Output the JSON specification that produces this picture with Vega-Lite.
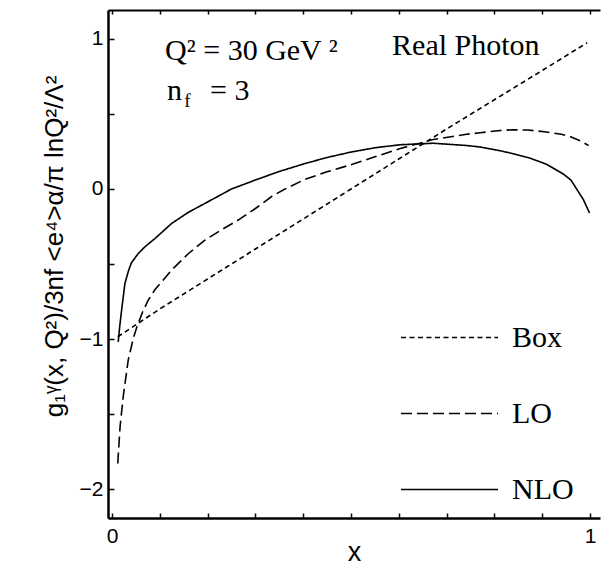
{
  "$schema": "https://vega.github.io/schema/vega-lite/v6.json",
  "width": 492,
  "height": 508,
  "autosize": {"type": "none"},
  "padding": {"left": 108, "top": 10, "right": 6, "bottom": 48},
  "background": "white",
  "config": {
    "view": {"stroke": null},
    "font": "Liberation Sans",
    "axis": {"domainColor": "black", "tickColor": "black", "labelColor": "black", "titleColor": "black", "grid": false}
  },
  "datasets": {
    "curves": [
      {"series": "Box", "x": 0.012, "y": -0.985},
      {"series": "Box", "x": 0.1, "y": -0.8},
      {"series": "Box", "x": 0.2, "y": -0.6},
      {"series": "Box", "x": 0.3, "y": -0.4},
      {"series": "Box", "x": 0.4, "y": -0.2},
      {"series": "Box", "x": 0.5, "y": 0.0},
      {"series": "Box", "x": 0.6, "y": 0.2},
      {"series": "Box", "x": 0.7, "y": 0.4},
      {"series": "Box", "x": 0.8, "y": 0.595},
      {"series": "Box", "x": 0.9, "y": 0.79},
      {"series": "Box", "x": 0.994, "y": 0.975},
      {"series": "LO", "x": 0.012, "y": -1.83},
      {"series": "LO", "x": 0.017, "y": -1.58},
      {"series": "LO", "x": 0.024, "y": -1.37},
      {"series": "LO", "x": 0.034, "y": -1.14},
      {"series": "LO", "x": 0.045, "y": -0.99},
      {"series": "LO", "x": 0.052, "y": -0.92},
      {"series": "LO", "x": 0.064, "y": -0.82},
      {"series": "LO", "x": 0.076, "y": -0.74},
      {"series": "LO", "x": 0.09, "y": -0.67},
      {"series": "LO", "x": 0.125, "y": -0.54},
      {"series": "LO", "x": 0.16, "y": -0.43},
      {"series": "LO", "x": 0.195, "y": -0.34},
      {"series": "LO", "x": 0.23, "y": -0.27},
      {"series": "LO", "x": 0.264, "y": -0.207},
      {"series": "LO", "x": 0.3, "y": -0.13},
      {"series": "LO", "x": 0.334, "y": -0.05},
      {"series": "LO", "x": 0.362, "y": 0.0},
      {"series": "LO", "x": 0.404, "y": 0.065},
      {"series": "LO", "x": 0.45, "y": 0.115},
      {"series": "LO", "x": 0.498, "y": 0.16},
      {"series": "LO", "x": 0.55, "y": 0.215},
      {"series": "LO", "x": 0.603, "y": 0.27},
      {"series": "LO", "x": 0.672, "y": 0.33},
      {"series": "LO", "x": 0.742, "y": 0.365},
      {"series": "LO", "x": 0.77, "y": 0.375},
      {"series": "LO", "x": 0.812, "y": 0.39},
      {"series": "LO", "x": 0.839, "y": 0.395},
      {"series": "LO", "x": 0.87, "y": 0.393},
      {"series": "LO", "x": 0.909, "y": 0.38},
      {"series": "LO", "x": 0.94, "y": 0.365},
      {"series": "LO", "x": 0.958, "y": 0.35},
      {"series": "LO", "x": 0.98, "y": 0.32},
      {"series": "LO", "x": 0.997, "y": 0.29},
      {"series": "NLO", "x": 0.013, "y": -1.02},
      {"series": "NLO", "x": 0.016, "y": -0.92},
      {"series": "NLO", "x": 0.02, "y": -0.81},
      {"series": "NLO", "x": 0.027, "y": -0.63},
      {"series": "NLO", "x": 0.035, "y": -0.54},
      {"series": "NLO", "x": 0.041, "y": -0.49},
      {"series": "NLO", "x": 0.055, "y": -0.43},
      {"series": "NLO", "x": 0.069, "y": -0.385},
      {"series": "NLO", "x": 0.09, "y": -0.33},
      {"series": "NLO", "x": 0.125, "y": -0.229},
      {"series": "NLO", "x": 0.16, "y": -0.155},
      {"series": "NLO", "x": 0.195, "y": -0.095},
      {"series": "NLO", "x": 0.25, "y": 0.0},
      {"series": "NLO", "x": 0.3, "y": 0.06},
      {"series": "NLO", "x": 0.35, "y": 0.117},
      {"series": "NLO", "x": 0.404, "y": 0.17},
      {"series": "NLO", "x": 0.45, "y": 0.21},
      {"series": "NLO", "x": 0.498, "y": 0.245},
      {"series": "NLO", "x": 0.55, "y": 0.275},
      {"series": "NLO", "x": 0.603, "y": 0.295},
      {"series": "NLO", "x": 0.672, "y": 0.305},
      {"series": "NLO", "x": 0.742, "y": 0.29},
      {"series": "NLO", "x": 0.77, "y": 0.28},
      {"series": "NLO", "x": 0.812, "y": 0.255},
      {"series": "NLO", "x": 0.84, "y": 0.235},
      {"series": "NLO", "x": 0.875, "y": 0.205},
      {"series": "NLO", "x": 0.909, "y": 0.165},
      {"series": "NLO", "x": 0.944, "y": 0.1},
      {"series": "NLO", "x": 0.96, "y": 0.06},
      {"series": "NLO", "x": 0.972, "y": 0.0},
      {"series": "NLO", "x": 0.986, "y": -0.07},
      {"series": "NLO", "x": 0.999, "y": -0.16}
    ],
    "notes": [
      {"text": "Q² = 30 GeV ²", "x": 0.111, "y": 0.86},
      {"text": "Real Photon", "x": 0.586, "y": 0.893},
      {"text": "n", "x": 0.115, "y": 0.593},
      {"text": "=  3", "x": 0.205, "y": 0.593}
    ],
    "subs": [
      {"text": "f", "x": 0.151, "y": 0.547}
    ]
  },
  "resolve": {"axis": {"x": "independent", "y": "independent"}},
  "layer": [
    {
      "data": {"name": "curves"},
      "mark": {"type": "line", "color": "black", "strokeWidth": 1.6},
      "encoding": {
        "x": {
          "field": "x", "type": "quantitative",
          "scale": {"domain": [-0.00837, 1.0209], "nice": false, "zero": false},
          "axis": {
            "orient": "bottom",
            "values": [0, 0.1, 0.2, 0.3, 0.4, 0.5, 0.6, 0.7, 0.8, 0.9, 1],
            "labelExpr": "datum.value === 0 || datum.value === 1 ? format(datum.value, 'd') : ''",
            "tickSize": -5, "tickWidth": 1.5, "domainWidth": 2.5,
            "labelFontSize": 21, "labelPadding": 12, "labelFlush": false,
            "title": "x", "titleFontSize": 27, "titleFontWeight": "normal",
            "titleBaseline": "alphabetic", "titleY": 42,
            "encode": {"ticks": {"update": {"y2": {"signal": "datum.value === 0 || datum.value === 1 ? -10 : -5"}}}}
          }
        },
        "y": {
          "field": "y", "type": "quantitative",
          "scale": {"domain": [-2.1933, 1.1933], "nice": false, "zero": false},
          "axis": {
            "orient": "left",
            "values": [-2, -1.5, -1, -0.5, 0, 0.5, 1],
            "labelExpr": "datum.value % 1 === 0 ? format(datum.value, 'd') : ''",
            "tickSize": -6, "tickWidth": 1.5, "domainWidth": 2.5,
            "labelFontSize": 21, "labelPadding": 11, "labelFlush": false,
            "title": "g₁ᵞ(x, Q²)/3nf <e⁴>α/π lnQ²/Λ²",
            "titleFontSize": 26, "titleFontWeight": "normal",
            "titleAngle": -90, "titleAlign": "center", "titleBaseline": "alphabetic",
            "titleX": -46, "titleY": 236,
            "encode": {"ticks": {"update": {"x2": {"signal": "datum.value % 1 === 0 ? 7 : 4"}}}}
          }
        },
        "strokeDash": {
          "field": "series", "type": "nominal",
          "scale": {"domain": ["Box", "LO", "NLO"], "range": [[5, 3.5], [11, 5], [1, 0]]},
          "legend": {
            "orient": "none", "legendX": 292, "legendY": 278,
            "title": null, "symbolType": "stroke", "symbolSize": 9409,
            "symbolStrokeWidth": 1.5, "symbolStrokeColor": "black",
            "labelFont": "Liberation Serif", "labelFontSize": 30, "labelColor": "black",
            "labelOffset": 13, "rowPadding": 11
          }
        }
      }
    },
    {
      "mark": {"type": "rule", "color": "black", "strokeWidth": 1.5, "strokeDash": [4, 2.5]},
      "encoding": {
        "x": {"datum": 0, "type": "quantitative", "axis": {
          "orient": "top", "values": [0, 0.1, 0.2, 0.3, 0.4, 0.5, 0.6, 0.7, 0.8, 0.9, 1],
          "labels": false, "tickSize": -4, "tickWidth": 1.5, "domainWidth": 2, "title": null,
          "encode": {"ticks": {"update": {"y2": {"signal": "datum.value === 0 || datum.value === 1 ? 10 : 4"}}}}
        }},
        "x2": {"datum": 1.005},
        "y": {"datum": 0, "type": "quantitative", "axis": null}
      }
    },
    {
      "data": {"name": "notes"},
      "mark": {"type": "text", "font": "Liberation Serif", "fontSize": 30, "align": "left", "baseline": "alphabetic", "color": "black"},
      "encoding": {
        "x": {"field": "x", "type": "quantitative", "axis": null},
        "y": {"field": "y", "type": "quantitative", "axis": null},
        "text": {"field": "text"}
      }
    },
    {
      "data": {"name": "subs"},
      "mark": {"type": "text", "font": "Liberation Serif", "fontSize": 19, "align": "left", "baseline": "alphabetic", "color": "black"},
      "encoding": {
        "x": {"field": "x", "type": "quantitative", "axis": null},
        "y": {"field": "y", "type": "quantitative", "axis": null},
        "text": {"field": "text"}
      }
    }
  ]
}
